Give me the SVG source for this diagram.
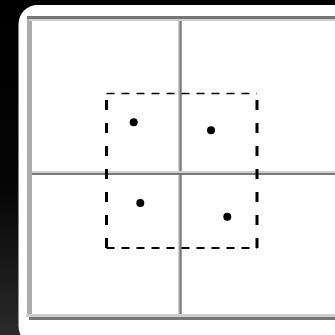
<svg xmlns="http://www.w3.org/2000/svg" width="335" height="335" viewBox="0 0 335 335">
  <defs>
    <linearGradient id="bg" x1="0" y1="0" x2="0" y2="1">
      <stop offset="0" stop-color="#000"/>
      <stop offset="0.55" stop-color="#050505"/>
      <stop offset="1" stop-color="#2a2a2a"/>
    </linearGradient>
    <style>
      .light { fill: #cfcfcf; }
      .dark { fill: #777; }
      .side { fill: #ababab; }
      .dash { stroke: #000; fill: none; }
      .pt { fill: #000; }
    </style>
  </defs>
  <rect x="0" y="0" width="335" height="335" fill="url(#bg)"/>
  <rect x="18.5" y="5" width="340" height="340" rx="19" fill="#fff"/>

  <g id="frame">
    <rect class="side" x="27" y="16" width="5" height="299"/>
    <rect class="dark" x="27" y="16" width="308" height="3"/>
    <rect class="light" x="29" y="19" width="306" height="2"/>
    <rect class="light" x="26" y="314" width="309" height="3"/>
    <rect class="dark" x="29" y="317" width="306" height="3"/>
  </g>

  <g id="axes">
    <rect class="light" x="178" y="21" width="4" height="293"/>
    <rect class="dark" x="179.5" y="21" width="2" height="293"/>
    <rect class="light" x="32" y="171" width="303" height="2"/>
    <rect class="dark" x="32" y="173" width="303" height="2"/>
  </g>

  <g id="connectors">
    <line class="dash" x1="106.5" y1="93.5" x2="257" y2="93.5" stroke-width="1.5" stroke-dasharray="8 7"/>
    <line class="dash" x1="106.5" y1="248" x2="257" y2="248" stroke-width="2" stroke-dasharray="8 7"/>
    <line class="dash" x1="106.5" y1="93" x2="106.5" y2="249" stroke-width="3" stroke-dasharray="0 7 10 6"/>
    <line class="dash" x1="257" y1="93" x2="257" y2="249" stroke-width="3" stroke-dasharray="0 7 10 6"/>
  </g>

  <g id="p1"><circle class="pt" cx="133.7" cy="122.3" r="4"/></g>
  <g id="p2"><circle class="pt" cx="211" cy="130.3" r="4"/></g>
  <g id="p3"><circle class="pt" cx="140.3" cy="203" r="4"/></g>
  <g id="p4"><circle class="pt" cx="227.3" cy="216.7" r="4"/></g>
</svg>
